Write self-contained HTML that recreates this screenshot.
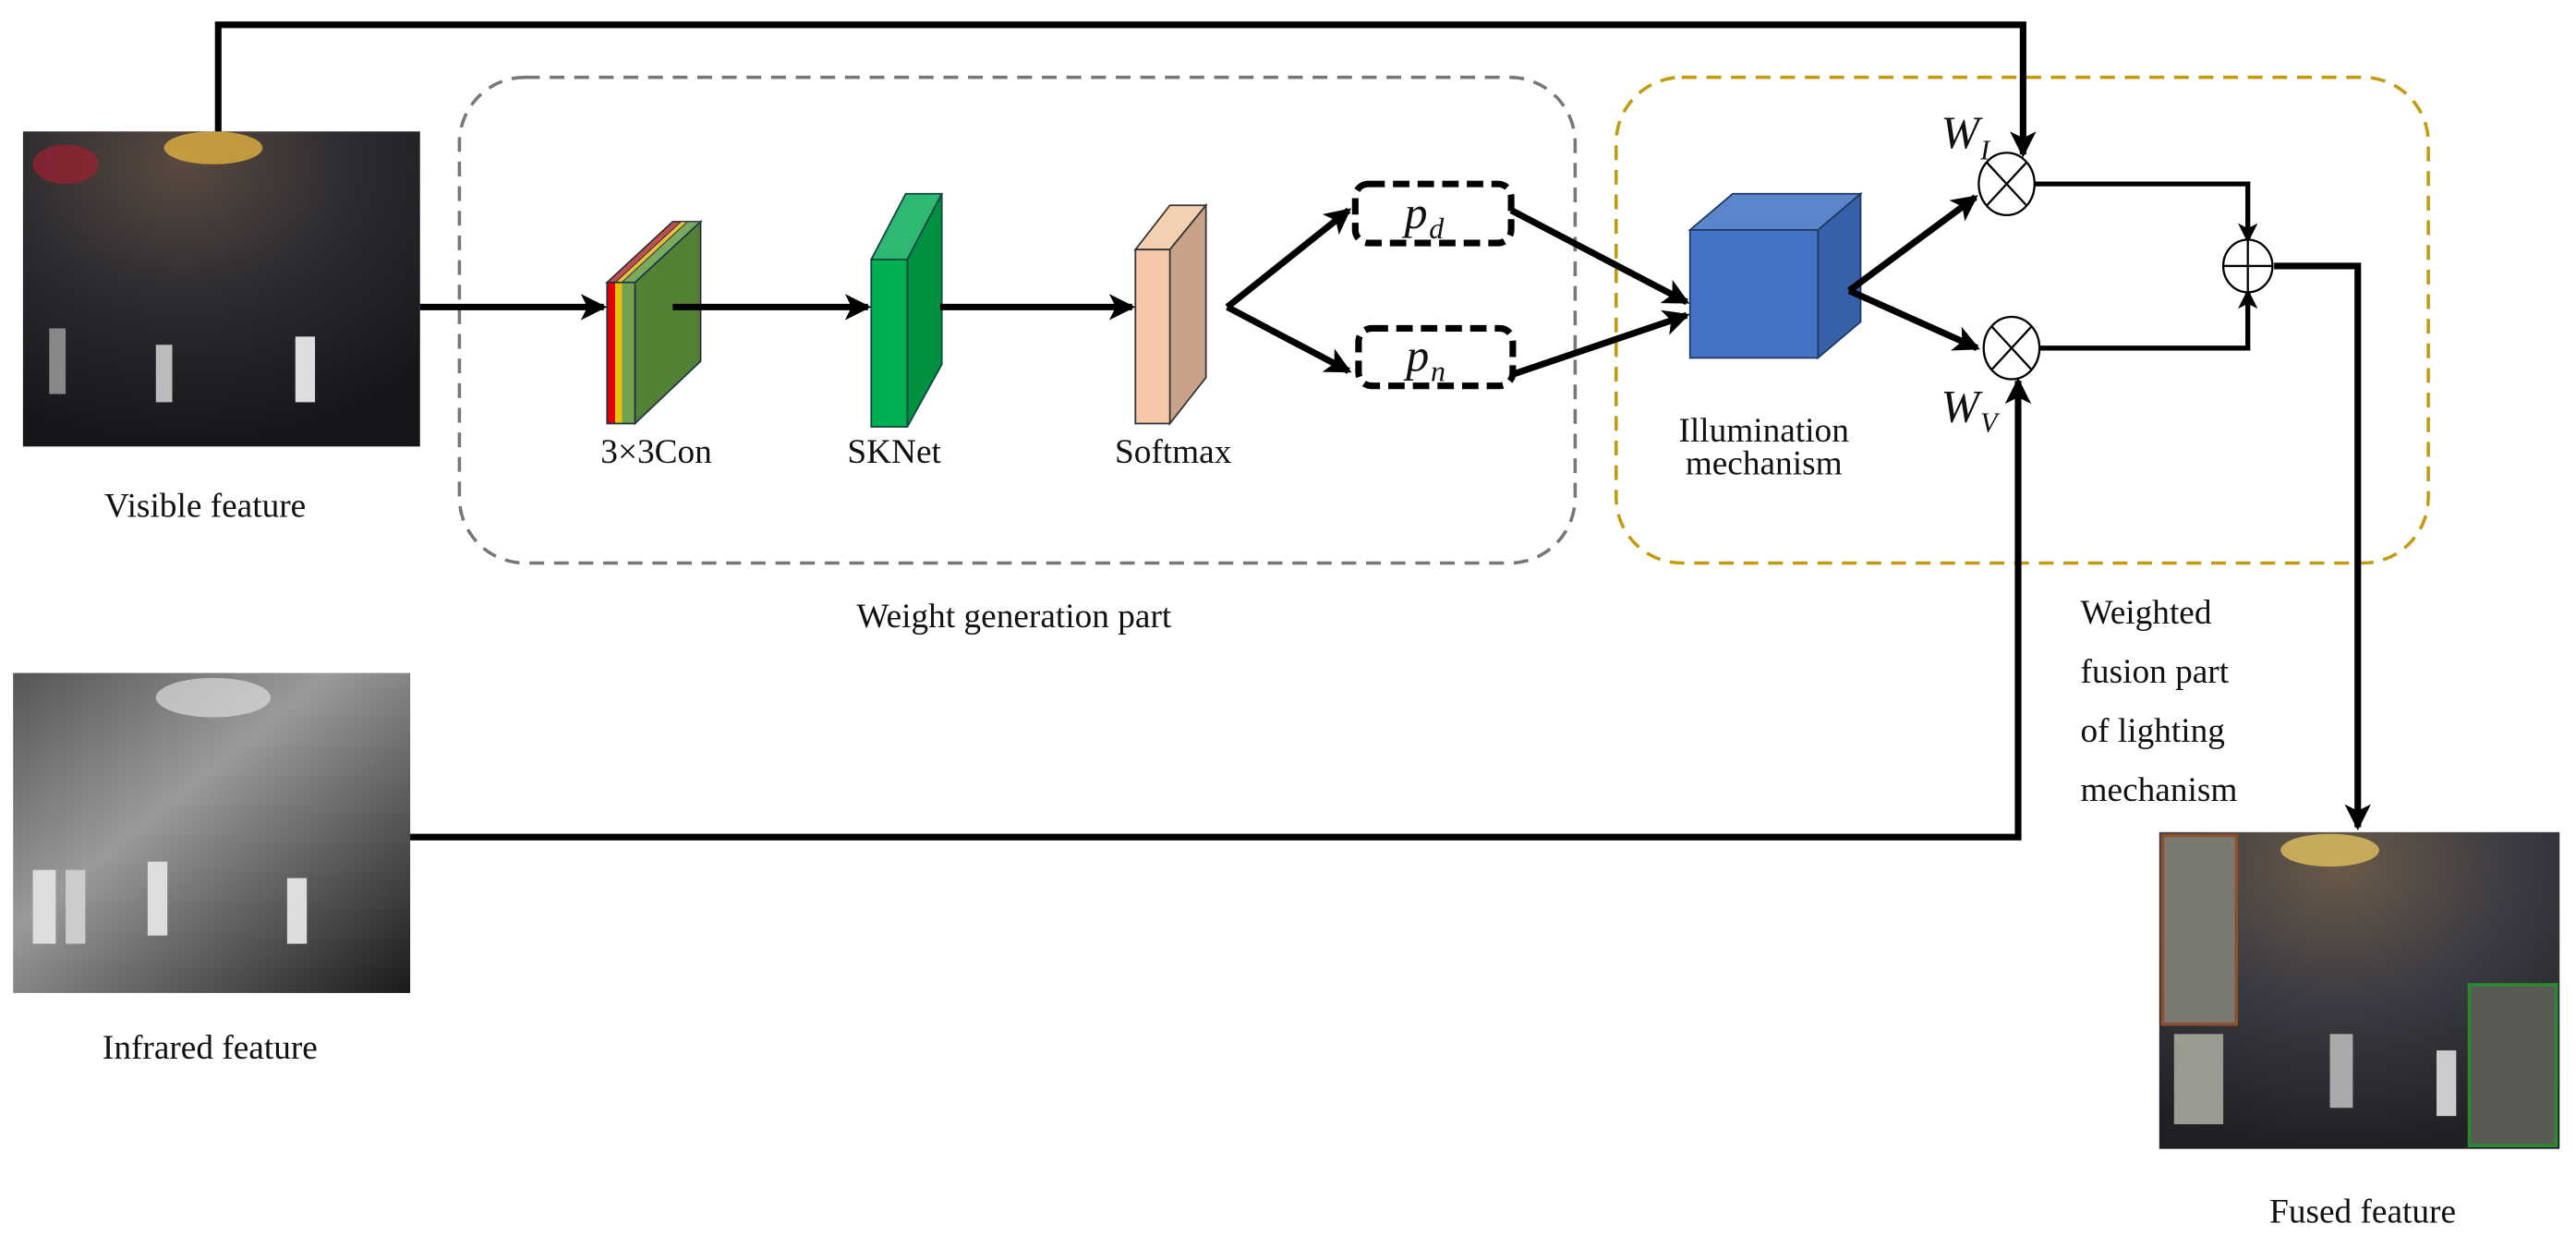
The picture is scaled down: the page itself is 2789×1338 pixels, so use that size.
<!DOCTYPE html>
<html><head><meta charset="utf-8"><style>
html,body{margin:0;padding:0;background:#fff;width:2789px;height:1338px;overflow:hidden}
svg{display:block}
text{font-family:"Liberation Serif",serif;font-size:21px;fill:#111}
</style></head><body>
<svg width="2789" height="1338" viewBox="0 0 1570 753" xmlns="http://www.w3.org/2000/svg">
<defs>
<marker id="ah" markerWidth="18" markerHeight="16" refX="14" refY="8" orient="auto" markerUnits="userSpaceOnUse"><path d="M0,0 L16,8 L0,16 L4,8 Z" fill="#000"/></marker>
<marker id="as" markerWidth="12" markerHeight="12" refX="10" refY="6" orient="auto" markerUnits="userSpaceOnUse"><path d="M0,0 L12,6 L0,12 L3,6 Z" fill="#000"/></marker>
<linearGradient id="ir" x1="0" y1="0" x2="1" y2="1"><stop offset="0" stop-color="#555"/><stop offset="0.4" stop-color="#9a9a9a"/><stop offset="1" stop-color="#1a1a1a"/></linearGradient>
<radialGradient id="vis" cx="0.4" cy="0.1" r="0.9"><stop offset="0" stop-color="#5a4a40"/><stop offset="0.5" stop-color="#2a2a30"/><stop offset="1" stop-color="#15161a"/></radialGradient>
<radialGradient id="fus" cx="0.45" cy="0.1" r="0.9"><stop offset="0" stop-color="#6a5a48"/><stop offset="0.5" stop-color="#3a3a42"/><stop offset="1" stop-color="#202024"/></radialGradient>
</defs>

<rect x="280" y="47" width="680" height="296" rx="40" fill="none" stroke="#777" stroke-width="2" stroke-dasharray="9,6"/>
<rect x="985" y="47" width="495" height="296" rx="40" fill="none" stroke="#c49a10" stroke-width="2" stroke-dasharray="9,6"/>

<rect x="14" y="80" width="242" height="192" fill="url(#vis)"/>
<ellipse cx="130" cy="90" rx="30" ry="10" fill="#e0b040" opacity="0.8"/>
<ellipse cx="40" cy="100" rx="20" ry="12" fill="#a02030" opacity="0.7"/>
<rect x="95" y="210" width="10" height="35" fill="#bbb"/><rect x="180" y="205" width="12" height="40" fill="#ddd"/><rect x="30" y="200" width="10" height="40" fill="#888"/>
<rect x="8" y="410" width="242" height="195" fill="url(#ir)"/>
<ellipse cx="130" cy="425" rx="35" ry="12" fill="#ddd" opacity="0.7"/>
<rect x="20" y="530" width="14" height="45" fill="#ddd"/><rect x="40" y="530" width="12" height="45" fill="#ccc"/><rect x="90" y="525" width="12" height="45" fill="#ddd"/><rect x="175" y="535" width="12" height="40" fill="#ddd"/>
<rect x="1316" y="507" width="244" height="193" fill="url(#fus)"/>
<ellipse cx="1420" cy="518" rx="30" ry="10" fill="#e0c060" opacity="0.8"/>
<rect x="1318" y="509" width="45" height="115" fill="#7a7a70" stroke="#8a5030" stroke-width="2"/>
<rect x="1505" y="600" width="53" height="98" fill="#5a5a55" stroke="#2a8a30" stroke-width="2"/>
<rect x="1325" y="630" width="30" height="55" fill="#9a9a90"/><rect x="1420" y="630" width="14" height="45" fill="#aaa"/><rect x="1485" y="640" width="12" height="40" fill="#ccc"/>

<!-- conv block -->
<polygon points="370,172 410,135 427,135 387,172" fill="#c0504d" stroke="#333" stroke-width="1"/>
<polygon points="375,172 415,135 427,135 387,172" fill="#e8c040" stroke="#333" stroke-width="0.6"/>
<polygon points="379,172 419,135 427,135 387,172" fill="#7aaa60" stroke="#333" stroke-width="0.6"/>
<polygon points="387,172 427,135 427,220 387,258" fill="#548235" stroke="#234" stroke-width="1"/>
<rect x="370" y="172" width="5" height="86" fill="#e00000"/>
<rect x="375" y="172" width="4" height="86" fill="#f0c000"/>
<rect x="379" y="172" width="8" height="86" fill="#70a050"/>
<rect x="370" y="172" width="17" height="86" fill="none" stroke="#234" stroke-width="1"/>
<!-- SKNet -->
<polygon points="531,158 552,118 574,118 553,158" fill="#2eb872" stroke="#144" stroke-width="1"/>
<polygon points="553,158 574,118 574,222 553,260" fill="#009040" stroke="#144" stroke-width="1"/>
<rect x="531" y="158" width="22" height="102" fill="#00b050" stroke="#144" stroke-width="1"/>
<!-- Softmax -->
<polygon points="692,152 713,125 735,125 713,152" fill="#f2d0b0" stroke="#333" stroke-width="1"/>
<polygon points="713,152 735,125 735,230 713,258" fill="#c9a088" stroke="#333" stroke-width="1"/>
<rect x="692" y="152" width="21" height="106" fill="#f6c8a8" stroke="#333" stroke-width="1"/>
<!-- cube -->
<polygon points="1030,140 1056,118 1134,118 1108,140" fill="#5b86cc" stroke="#1f3864" stroke-width="1"/>
<polygon points="1108,140 1134,118 1134,196 1108,218" fill="#3660a8" stroke="#1f3864" stroke-width="1"/>
<rect x="1030" y="140" width="78" height="78" fill="#4472c4" stroke="#1f3864" stroke-width="1"/>

<rect x="826" y="112" width="95" height="36" rx="8" fill="#fff" stroke="#000" stroke-width="4" stroke-dasharray="10,5"/>
<rect x="828" y="200" width="94" height="35" rx="8" fill="#fff" stroke="#000" stroke-width="4" stroke-dasharray="10,5"/>
<text x="856" y="139" style="font-style:italic;font-size:28px">p</text><text x="871" y="145" style="font-style:italic;font-size:18px">d</text>
<text x="857" y="226" style="font-style:italic;font-size:28px">p</text><text x="872" y="232" style="font-style:italic;font-size:18px">n</text>

<g stroke="#000" stroke-width="4" fill="none">
<line x1="256" y1="187" x2="368" y2="187" marker-end="url(#ah)"/>
<line x1="410" y1="187" x2="529" y2="187" marker-end="url(#ah)"/>
<line x1="573" y1="187" x2="690" y2="187" marker-end="url(#ah)"/>
<line x1="748" y1="187" x2="822" y2="226" marker-end="url(#ah)"/>
<line x1="748" y1="187" x2="822" y2="128" marker-end="url(#ah)"/>
<line x1="921" y1="128" x2="1028" y2="184" marker-end="url(#ah)"/>
<line x1="922" y1="228" x2="1028" y2="192" marker-end="url(#ah)"/>
<line x1="1127" y1="177" x2="1204" y2="120" marker-end="url(#ah)"/>
<line x1="1127" y1="177" x2="1205" y2="212" marker-end="url(#ah)"/>
<polyline points="133,80 133,15 1233,15 1233,94" marker-end="url(#ah)"/>
<polyline points="250,510 1230,510 1230,232" marker-end="url(#ah)"/>
<polyline points="1386,162 1437,162 1437,504" marker-end="url(#ah)"/>
</g>
<g stroke="#000" stroke-width="3" fill="none">
<polyline points="1240,112 1370,112 1370,146" marker-end="url(#as)"/>
<polyline points="1242,212 1370,212 1370,178" marker-end="url(#as)"/>
</g>
<g stroke="#000" stroke-width="1.3" fill="#fff">
<ellipse cx="1223" cy="112" rx="17" ry="19"/>
<ellipse cx="1226" cy="212" rx="17" ry="19"/>
<ellipse cx="1370" cy="162" rx="15" ry="16"/>
</g>
<g stroke="#000" stroke-width="1.3">
<line x1="1211" y1="99" x2="1235" y2="125"/><line x1="1235" y1="99" x2="1211" y2="125"/>
<line x1="1214" y1="199" x2="1238" y2="225"/><line x1="1238" y1="199" x2="1214" y2="225"/>
<line x1="1355" y1="162" x2="1385" y2="162"/><line x1="1370" y1="146" x2="1370" y2="178"/>
</g>
<text x="1183" y="90" style="font-style:italic;font-size:28px">W</text><text x="1207" y="97" style="font-style:italic;font-size:17px">I</text>
<text x="1183" y="257" style="font-style:italic;font-size:28px">W</text><text x="1207" y="263" style="font-style:italic;font-size:17px">V</text>

<text x="125" y="315" text-anchor="middle">Visible feature</text>
<text x="128" y="645" text-anchor="middle">Infrared feature</text>
<text x="1440" y="745" text-anchor="middle">Fused feature</text>
<text x="400" y="282" text-anchor="middle">3×3Con</text>
<text x="545" y="282" text-anchor="middle">SKNet</text>
<text x="715" y="282" text-anchor="middle">Softmax</text>
<text x="1075" y="269" text-anchor="middle">Illumination</text>
<text x="1075" y="289" text-anchor="middle">mechanism</text>
<text x="618" y="382" text-anchor="middle">Weight generation part</text>
<text x="1268" y="380">Weighted</text>
<text x="1268" y="416">fusion part</text>
<text x="1268" y="452">of lighting</text>
<text x="1268" y="488">mechanism</text>
</svg>
</body></html>
